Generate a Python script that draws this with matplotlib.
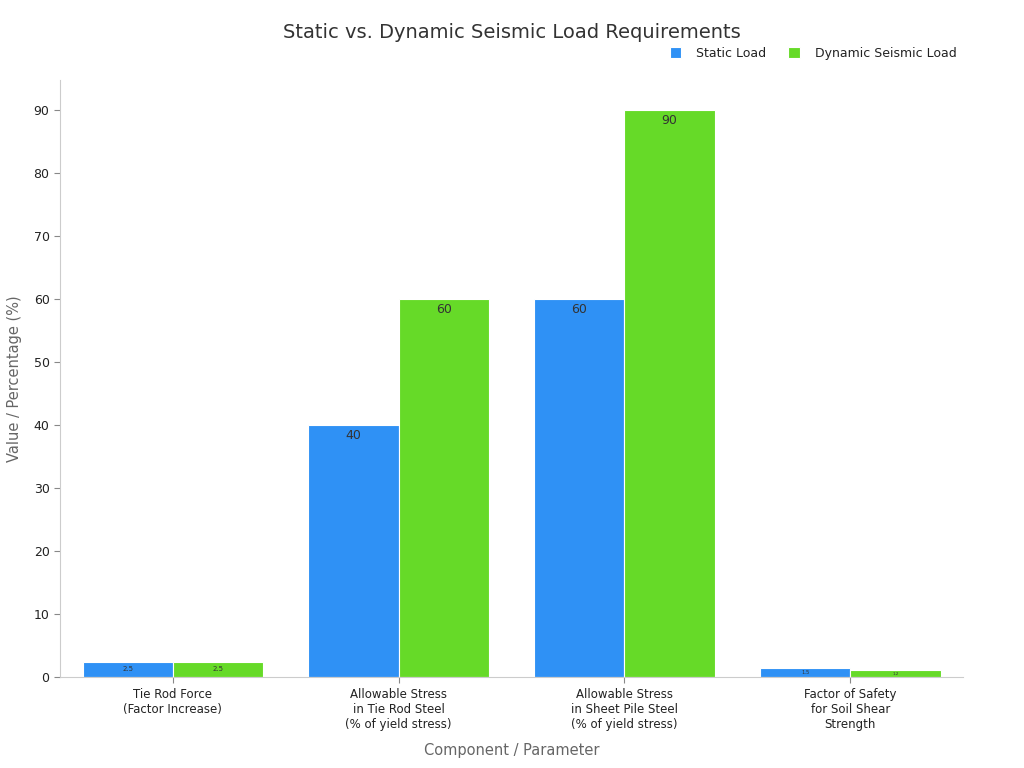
import numpy as np
from matplotlib import pyplot as plt

categories = [
    "Tie Rod Force\n(Factor Increase)",
    "Allowable Stress\nin Tie Rod Steel\n(% of yield stress)",
    "Allowable Stress\nin Sheet Pile Steel\n(% of yield stress)",
    "Factor of Safety\nfor Soil Shear\nStrength",
]
static_load = [2.5, 40, 60, 1.5]
dynamic_load = [2.5, 60, 90, 1.2]
series_names = ["Static Load", "Dynamic Seismic Load"]
colors = ["#2F91F5", "#66DA28"]

fig = plt.figure(figsize=(10.24, 7.68), dpi=100)
ax = fig.add_axes([0.0586, 0.118, 0.882, 0.778])

x = np.arange(len(categories))
width = 0.4
groups = [static_load, dynamic_load]
for i, (vals, name, col) in enumerate(zip(groups, series_names, colors)):
    pos = x + (i - 0.5) * width
    bars = ax.bar(pos, vals, width, color=col, edgecolor="white", linewidth=0.8, label=name)
    for b, v in zip(bars, vals):
        if v >= 10:
            ax.annotate("%g" % v, (b.get_x() + b.get_width() / 2, v),
                        xytext=(0, -3), textcoords="offset points",
                        ha="center", va="top", fontsize=9, color="#333333")
        else:
            ax.annotate("%g" % v, (b.get_x() + b.get_width() / 2, v / 2),
                        ha="center", va="center", fontsize=min(5, v * 2.5), color="#333333")

ax.set_xlim(-0.5, 3.5)
ax.set_ylim(0, 94.8)
ax.set_yticks(range(0, 91, 10))
ax.set_xticks(x)
ax.set_xticklabels(categories, fontsize=8.5, color="#222222")
ax.tick_params(axis="y", labelsize=9, colors="#222222", length=4)
ax.tick_params(axis="x", length=4, color="#888888")
ax.tick_params(axis="y", color="#888888")
for s in ["top", "right"]:
    ax.spines[s].set_visible(False)
for s in ["left", "bottom"]:
    ax.spines[s].set_color("#cccccc")

ax.set_xlabel("Component / Parameter", fontsize=10.5, color="#666666", labelpad=9)
ax.set_ylabel("Value / Percentage (%)", fontsize=10.5, color="#666666", labelpad=8)
fig.suptitle("Static vs. Dynamic Seismic Load Requirements", fontsize=14, color="#333333", y=0.97)

ax.legend(loc="lower right", bbox_to_anchor=(1.005, 1.015), ncol=2, frameon=False,
          fontsize=9, handlelength=0.9, handleheight=0.9, columnspacing=1.8,
          handletextpad=1.2, labelcolor="#222222")

plt.savefig("out.png", dpi=100)
